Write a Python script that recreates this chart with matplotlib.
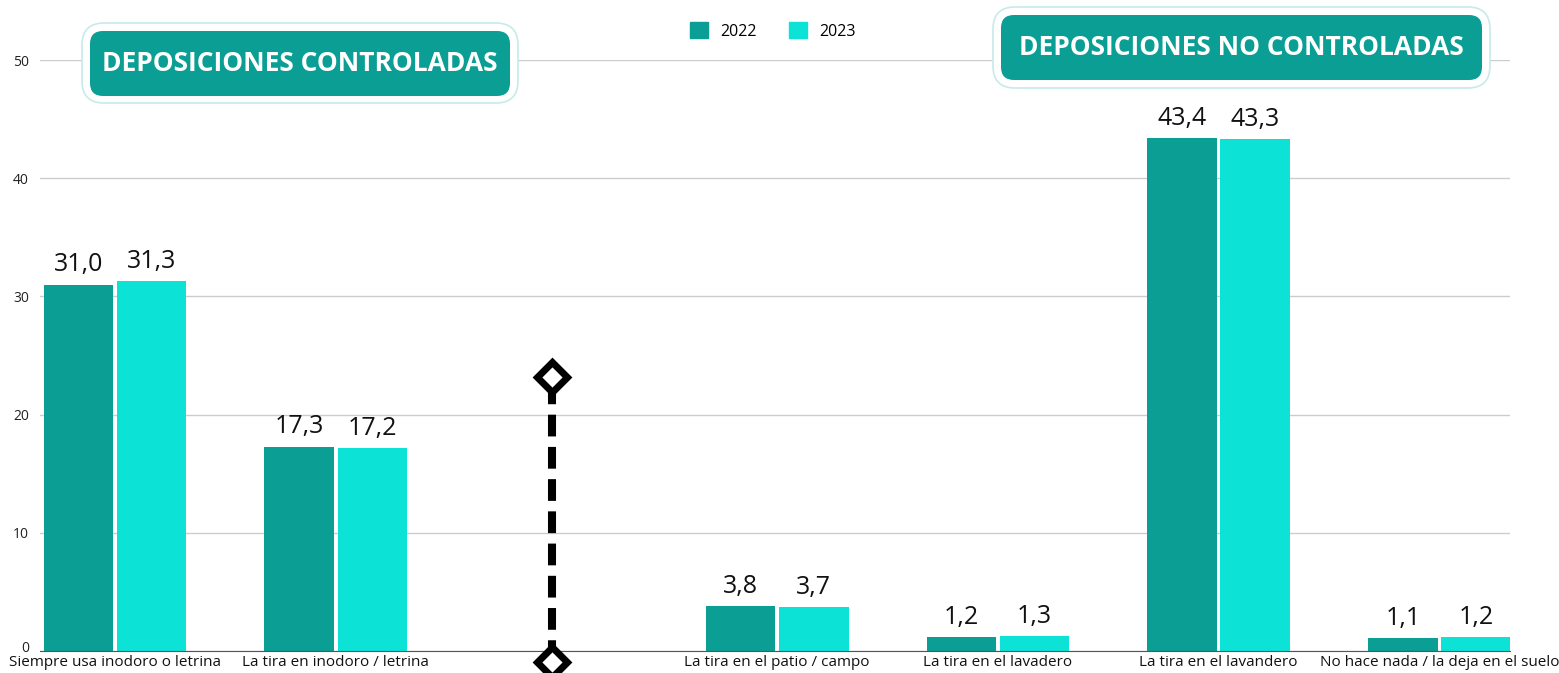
import matplotlib
matplotlib.use("Agg")
import matplotlib.pyplot as plt
import matplotlib.transforms as mtransforms
from matplotlib.patches import FancyBboxPatch, Patch
import numpy as np

plt.rcParams['font.family'] = ['Open Sans', 'DejaVu Sans']

# ---------------------------------------------------------------- data
categories = [
    "Siempre usa inodoro o letrina",
    "La tira en inodoro / letrina",
    "",
    "La tira en el patio / campo",
    "La tira en el lavadero",
    "La tira en el lavandero",
    "No hace nada / la deja en el suelo",
]
series_names = ["2022", "2023"]
values_2022 = [31.0, 17.3, None, 3.8, 1.2, 43.4, 1.1]
values_2023 = [31.3, 17.2, None, 3.7, 1.3, 43.3, 1.2]
y_ticks = [0, 10, 20, 30, 40, 50]
group_titles = ["DEPOSICIONES CONTROLADAS", "DEPOSICIONES NO CONTROLADAS"]

# ---------------------------------------------------------------- style
C_2022 = "#0a9e94"
C_2023 = "#0ce2d5"
W, H = 1559, 673

fig = plt.figure(figsize=(W / 100, H / 100), dpi=100)
ax = fig.add_axes([40 / W, 1 - 651 / H, 1470 / W, 591 / H])

x = np.arange(len(categories))
bw = 0.315
gap = 0.016


def fmt(v):
    return f"{v:.1f}".replace(".", ",")


for vals, col, off in [(values_2022, C_2022, -(bw + gap) / 2),
                       (values_2023, C_2023, (bw + gap) / 2)]:
    for xi, v in zip(x, vals):
        if v is None:
            continue
        ax.bar(xi + off, v, width=bw, color=col, zorder=3)
        ax.text(xi + off, v + 0.6, fmt(v), ha="center", va="bottom",
                fontsize=18, color="#111111", zorder=4)

ax.set_xlim(-0.34, 6.32)
ax.set_ylim(0, 50)
ax.set_yticks(y_ticks)
ax.set_yticklabels([str(t) for t in y_ticks], fontsize=10, color="#222222")
ax.set_xticks(x)
ax.set_xticklabels(categories, fontsize=11, color="#111111")
ax.tick_params(axis="both", length=0)
ax.tick_params(axis="y", pad=8)
ax.tick_params(axis="x", pad=3)
# nudge the "0" label up a little so it clears the first category label
zero_lbl = ax.get_yticklabels()[0]
zero_lbl.set_transform(zero_lbl.get_transform() +
                       mtransforms.ScaledTranslation(0, 5 / 100, fig.dpi_scale_trans))
ax.grid(axis="y", color="#cccccc", linewidth=1, zorder=0)
for s in ["top", "right", "left"]:
    ax.spines[s].set_visible(False)
ax.spines["bottom"].set_color("#555555")
ax.spines["bottom"].set_zorder(5)

# dashed divider with diamond ends
div_x = 1.98
div_y = [-0.9, 23.2]
ax.plot([div_x, div_x], div_y, color="black", linewidth=5.8,
        linestyle=(0, (2.7, 1.3)), clip_on=False, zorder=6,
        solid_capstyle="butt")
ax.plot([div_x, div_x], div_y, linestyle="none", marker="D", markersize=15,
        markerfacecolor="white", markeredgecolor="black",
        markeredgewidth=5, clip_on=False, zorder=7)

# legend
handles = [Patch(color=C_2022), Patch(color=C_2023)]
fig.legend(handles, series_names, loc="center", bbox_to_anchor=(773 / W, 1 - 31 / H),
           ncol=2, frameon=False, fontsize=11.5, handlelength=1.1,
           handleheight=1.1, columnspacing=2.0, handletextpad=0.8)

# title boxes, drawn on an overlay in pixel coordinates
ov = fig.add_axes([0, 0, 1, 1], zorder=10)
ov.set_xlim(0, W)
ov.set_ylim(H, 0)
ov.axis("off")

boxes = [
    ((82, 23, 436, 80), (90, 31, 420, 65)),
    ((993, 7, 497, 81), (1001, 15, 481, 65)),
]
for title, (outer, inner) in zip(group_titles, boxes):
    ox, oy, ow, oh = outer
    ov.add_patch(FancyBboxPatch((ox, oy), ow, oh,
                                boxstyle="round,pad=0,rounding_size=22",
                                facecolor="white", edgecolor="#c6ebe8",
                                linewidth=1.2))
    ix, iy, iw, ih = inner
    ov.add_patch(FancyBboxPatch((ix, iy), iw, ih,
                                boxstyle="round,pad=0,rounding_size=13",
                                facecolor=C_2022, edgecolor="none"))
    ov.text(ix + iw / 2, iy + ih / 2, title, ha="center", va="center",
            fontsize=19, fontweight="bold", color="white")

fig.savefig("out.png", dpi=100)
